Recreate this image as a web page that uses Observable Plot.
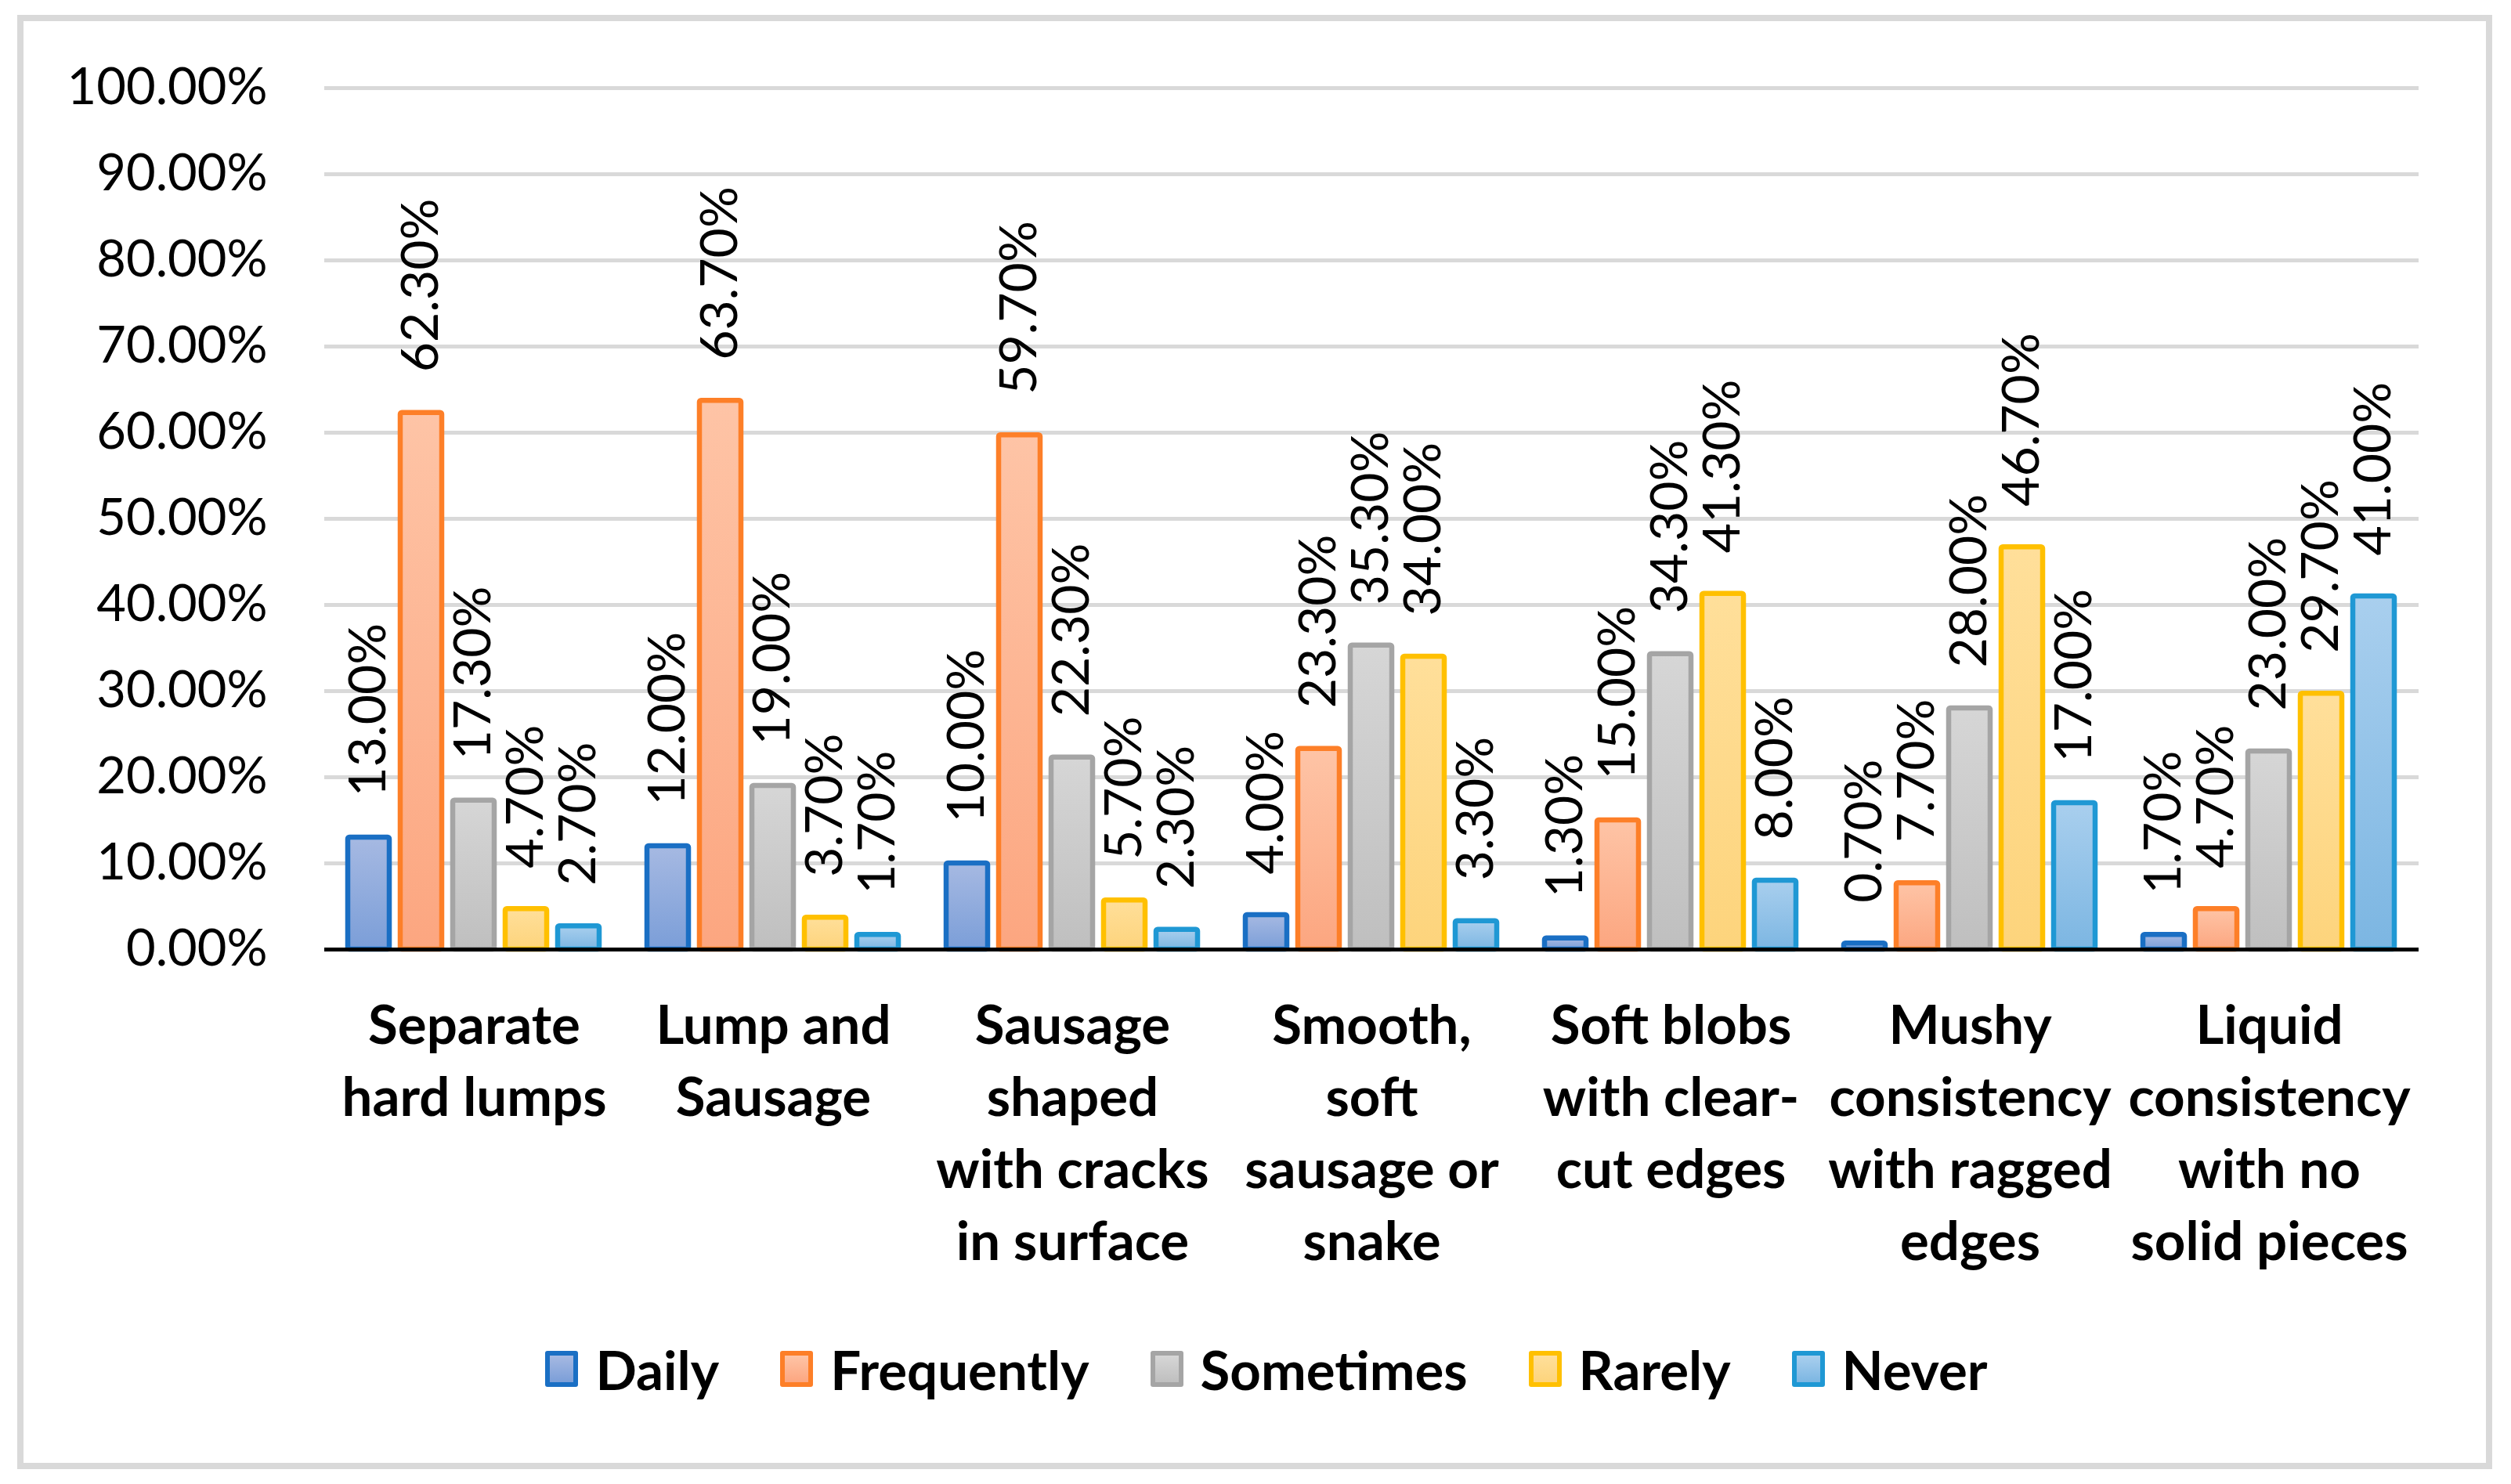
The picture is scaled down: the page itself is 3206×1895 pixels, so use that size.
<!DOCTYPE html>
<html><head><meta charset="utf-8">
<script src="https://cdn.jsdelivr.net/npm/d3@7"></script>
<script src="https://cdn.jsdelivr.net/npm/@observablehq/plot@0.6"></script>
<style>
html,body{margin:0;padding:0;background:#fff;width:3206px;height:1895px;overflow:hidden;font-family:Lato,sans-serif;}
#chart{position:absolute;left:0;top:0;}
#frame{position:absolute;left:22px;top:19px;width:3160px;height:1857px;box-sizing:border-box;border:8px solid #d9d9d9;pointer-events:none;}
#legend{position:absolute;left:14px;width:3206px;top:1720px;height:56px;display:flex;justify-content:center;align-items:center;gap:78px;font-weight:700;font-size:69px;line-height:1;color:#000;}
.item{display:flex;align-items:center;gap:22px;}
.sw{width:42px;height:46px;box-sizing:border-box;border:6px solid;border-radius:3px;}
</style></head><body>
<div id="chart"></div><div id="legend"></div><div id="frame"></div>
<script>
const categories = ["Separate hard lumps","Lump and Sausage","Sausage shaped with cracks in surface","Smooth, soft sausage or snake","Soft blobs with clear-cut edges","Mushy consistency with ragged edges","Liquid consistency with no solid pieces"];
const categoryLabels = ["Separate\nhard lumps","Lump and\nSausage","Sausage\nshaped\nwith cracks\nin surface","Smooth,\nsoft\nsausage or\nsnake","Soft blobs\nwith clear-\ncut edges","Mushy\nconsistency\nwith ragged\nedges","Liquid\nconsistency\nwith no\nsolid pieces"];
const series = ["Daily","Frequently","Sometimes","Rarely","Never"];
const daily      = [13.0, 12.0, 10.0,  4.0,  1.3,  0.7,  1.7];
const frequently = [62.3, 63.7, 59.7, 23.3, 15.0,  7.7,  4.7];
const sometimes  = [17.3, 19.0, 22.3, 35.3, 34.3, 28.0, 23.0];
const rarely     = [ 4.7,  3.7,  5.7, 34.0, 41.3, 46.7, 29.7];
const never      = [ 2.7,  1.7,  2.3,  3.3,  8.0, 17.0, 41.0];
const yTicks = [0,10,20,30,40,50,60,70,80,90,100];

const values = [daily, frequently, sometimes, rarely, never];
const strokes = ["#1a6fc4", "#fd7f28", "#a5a5a5", "#ffc000", "#1f98d4"];
const gradTop = ["#a6b9e2", "#fec4a6", "#d6d6d6", "#ffdf9a", "#a9cfee"];
const gradBot = ["#7b9ed8", "#fca680", "#bfbfbf", "#fdd47c", "#7cb6e2"];

const rows = series.map((s, i) => categories.map((c, j) => ({category: c, series: s, value: values[i][j]})));

const marks = [
  Plot.gridY(yTicks, {stroke: "#d9d9d9", strokeWidth: 5, strokeOpacity: 1}),
];
series.forEach((s, i) => {
  marks.push(Plot.barY(rows[i], {fx: "category", x: "series", y: "value", fill: `url(#grad${i})`, stroke: strokes[i], strokeWidth: 6.5, rx: 2}));
});
marks.push(Plot.ruleY([0], {stroke: "#000", strokeWidth: 5}));
series.forEach((s, i) => {
  marks.push(Plot.text(rows[i], {fx: "category", x: "series", y: "value", text: d => d.value.toFixed(2) + "%", rotate: -90, textAnchor: "start", lineAnchor: "middle", dy: -52, fontSize: 66, fill: "#000"}));
});
marks.push(Plot.text(categories, {fx: d => d, text: (d, i) => categoryLabels[i], frameAnchor: "bottom", lineAnchor: "top", dy: 55, fontSize: 69, fontWeight: 700, lineHeight: 1.335, fill: "#000"}));

const chart = Plot.plot({
  width: 3206,
  height: 1640,
  marginLeft: 413,
  marginRight: 118,
  marginTop: 112,
  marginBottom: 428,
  style: {fontFamily: "Lato, sans-serif", fontSize: "65px", background: "transparent", color: "#000", overflow: "visible"},
  fx: {domain: categories, padding: 0, axis: null, label: null},
  x: {domain: series, paddingInner: 0.206, paddingOuter: 0.437, axis: null, label: null},
  y: {domain: [0, 100], ticks: yTicks, tickFormat: d => d.toFixed(2) + "%", tickSize: 0, tickPadding: 73, label: null},
  marks
});

const defs = series.map((s, i) => `<linearGradient id="grad${i}" x1="0" y1="0" x2="0" y2="1"><stop offset="0" stop-color="${gradTop[i]}"/><stop offset="1" stop-color="${gradBot[i]}"/></linearGradient>`).join("");
chart.insertAdjacentHTML("afterbegin", `<defs>${defs}</defs>`);
document.getElementById("chart").appendChild(chart);

const legend = document.getElementById("legend");
series.forEach((s, i) => {
  const item = document.createElement("div");
  item.className = "item";
  const sw = document.createElement("div");
  sw.className = "sw";
  sw.style.borderColor = strokes[i];
  sw.style.background = `linear-gradient(${gradTop[i]}, ${gradBot[i]})`;
  const t = document.createElement("span");
  t.textContent = s;
  item.appendChild(sw);
  item.appendChild(t);
  legend.appendChild(item);
});
</script>
</body></html>
